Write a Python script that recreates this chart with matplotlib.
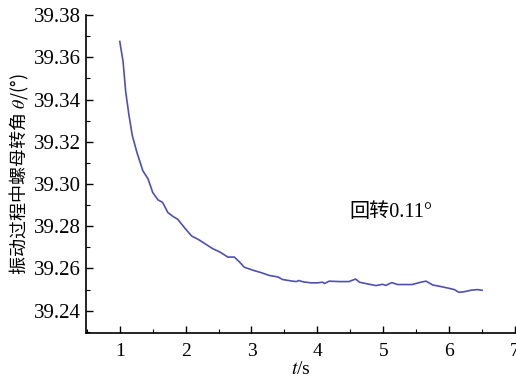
import matplotlib
matplotlib.use("Agg")
import matplotlib.pyplot as plt
from matplotlib.ticker import MultipleLocator

# 振动过程中螺母转角随时间变化
t = [1.00, 1.05, 1.09, 1.14, 1.19, 1.26, 1.35, 1.43, 1.50, 1.58, 1.65, 1.73,
     1.81, 1.88, 1.98, 2.09, 2.19, 2.31, 2.41, 2.52, 2.64, 2.74, 2.82, 2.89,
     3.02, 3.15, 3.27, 3.40, 3.47, 3.60, 3.68, 3.72, 3.78, 3.90, 4.00, 4.08,
     4.11, 4.18, 4.33, 4.48, 4.58, 4.64, 4.76, 4.89, 4.99, 5.04, 5.13, 5.22,
     5.44, 5.57, 5.65, 5.75, 5.85, 6.00, 6.08, 6.15, 6.23, 6.33, 6.43, 6.50]
theta = [39.3675, 39.3580, 39.3437, 39.3325, 39.3230, 39.3150, 39.3063, 39.3024,
         39.2960, 39.2925, 39.2913, 39.2865, 39.2846, 39.2833, 39.2794, 39.2754,
         39.2738, 39.2714, 39.2694, 39.2678, 39.2654, 39.2654, 39.2630, 39.2606,
         39.2592, 39.2580, 39.2567, 39.2560, 39.2548, 39.2541, 39.2538, 39.2543,
         39.2537, 39.2532, 39.2532, 39.2535, 39.2529, 39.2540, 39.2538, 39.2538,
         39.2550, 39.2535, 39.2527, 39.2519, 39.2525, 39.2520, 39.2533, 39.2524,
         39.2524, 39.2535, 39.2540, 39.2522, 39.2516, 39.2506, 39.2500, 39.2487,
         39.2490, 39.2497, 39.2500, 39.2497]

x_ticks = [1, 2, 3, 4, 5, 6, 7]
y_ticks = [39.24, 39.26, 39.28, 39.30, 39.32, 39.34, 39.36, 39.38]

plt.rcParams['font.family'] = ['Liberation Serif', 'Noto Sans CJK SC']
plt.rcParams['mathtext.fontset'] = 'stix'

fig = plt.figure(figsize=(5.16, 3.77), dpi=100)
ax = fig.add_axes([0.167, 0.117, 0.831, 0.843])

ax.plot(t, theta, color='#5050b0', lw=1.2)

ax.set_xlim(0.49, 7.0)
ax.set_ylim(39.2295, 39.38)
ax.set_xticks(x_ticks)
ax.set_yticks(y_ticks)
ax.set_yticklabels(["%.2f" % v for v in y_ticks])
ax.xaxis.set_minor_locator(MultipleLocator(0.5))
ax.yaxis.set_minor_locator(MultipleLocator(0.01))
ax.tick_params(which='major', direction='in', length=5, width=1, labelsize=14)
ax.tick_params(which='minor', direction='in', length=3, width=0.8)
ax.tick_params(axis='y', labelsize=15)
ax.tick_params(axis='x', pad=7)

for side in ['top', 'right']:
    ax.spines[side].set_visible(False)
for side in ['left', 'bottom']:
    ax.spines[side].set_linewidth(1.2)

ax.set_xlabel("$t$/s", fontsize=14, labelpad=1)
ax.set_ylabel("振动过程中螺母转角 $\\theta$/(°)", fontsize=13,
              family='Noto Sans CJK SC', labelpad=2)
ax.text(5.12, 39.2867, "回转0.11°", fontsize=14.5, ha='center', va='center')

fig.savefig("out.png", dpi=100)
